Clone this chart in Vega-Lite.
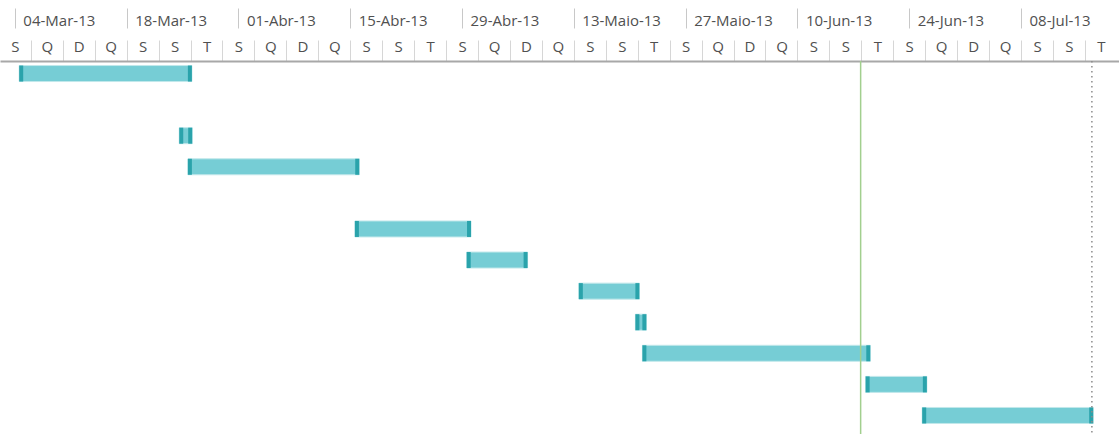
{
  "$schema": "https://vega.github.io/schema/vega-lite/v6.json",
  "width": 1119,
  "height": 373,
  "autosize": {"type": "none"},
  "padding": {"left": 0, "top": 61, "right": 0, "bottom": 0},
  "background": "white",
  "config": {
    "view": {"stroke": null},
    "font": "Open Sans",
    "axis": {"labelFont": "Open Sans", "grid": false, "title": null}
  },
  "datasets": {
    "tarefas": [
      {"tarefa": "Tarefa 1", "inicio": "2013-03-04T13:00", "fim": "2013-03-26T04:00"},
      {"tarefa": "Tarefa 2", "inicio": "2013-03-24T14:00", "fim": "2013-03-26T05:00"},
      {"tarefa": "Tarefa 3", "inicio": "2013-03-25T16:00", "fim": "2013-04-16T03:00"},
      {"tarefa": "Tarefa 4", "inicio": "2013-04-15T14:00", "fim": "2013-04-30T03:00"},
      {"tarefa": "Tarefa 5", "inicio": "2013-04-29T14:00", "fim": "2013-05-07T05:00"},
      {"tarefa": "Tarefa 6", "inicio": "2013-05-13T15:00", "fim": "2013-05-21T05:00"},
      {"tarefa": "Tarefa 7", "inicio": "2013-05-20T17:00", "fim": "2013-05-22T02:00"},
      {"tarefa": "Tarefa 8", "inicio": "2013-05-21T14:00", "fim": "2013-06-19T03:00"},
      {"tarefa": "Tarefa 9", "inicio": "2013-06-18T13:00", "fim": "2013-06-26T05:00"},
      {"tarefa": "Tarefa 10", "inicio": "2013-06-25T15:00", "fim": "2013-07-17T01:00"}
    ],
    "marcos": [
      {"tipo": "Data de status", "data": "2013-06-17T22:00"},
      {"tipo": "Fim do projeto", "data": "2013-07-16T21:00"}
    ]
  },
  "resolve": {"axis": {"x": "independent"}},
  "layer": [
    {
      "data": {"name": "tarefas"},
      "mark": {"type": "bar", "height": 16, "color": "#76cdd5", "stroke": "#c2e8eb", "strokeWidth": 1, "cornerRadius": 0},
      "encoding": {
        "x": {
          "field": "inicio", "type": "temporal",
          "scale": {"domain": [{"year": 2013, "month": 3, "date": 2, "hours": 3, "minutes": 18}, {"year": 2013, "month": 7, "date": 20, "hours": 6, "minutes": 30}]},
          "axis": {
            "orient": "top",
            "values": [
              {"year": 2013, "month": 3, "date": 4}, {"year": 2013, "month": 3, "date": 18},
              {"year": 2013, "month": 4, "date": 1}, {"year": 2013, "month": 4, "date": 15},
              {"year": 2013, "month": 4, "date": 29}, {"year": 2013, "month": 5, "date": 13},
              {"year": 2013, "month": 5, "date": 27}, {"year": 2013, "month": 6, "date": 10},
              {"year": 2013, "month": 6, "date": 24}, {"year": 2013, "month": 7, "date": 8}
            ],
            "offset": 33,
            "tickSize": 20,
            "tickColor": "#c8c8c8",
            "tickWidth": 1,
            "domain": false,
            "labelAlign": "left",
            "labelOffset": 8,
            "labelPadding": -12,
            "labelBaseline": "middle",
            "labelFontSize": 15,
            "labelColor": "#505050",
            "labelFlush": false,
            "labelOverlap": false,
            "labelBound": false,
            "labelExpr": "timeFormat(datum.value, '%d') + '-' + ['Jan','Fev','Mar','Abr','Maio','Jun','Jul','Ago','Set','Out','Nov','Dez'][month(datum.value)] + '-' + timeFormat(datum.value, '%y')"
          }
        },
        "x2": {"field": "fim"},
        "y": {
          "field": "tarefa", "type": "nominal",
          "scale": {
            "domain": ["Tarefa 1", "Tarefa 1 (cont.)", "Tarefa 2", "Tarefa 3", "Tarefa 3 (cont.)", "Tarefa 4", "Tarefa 5", "Tarefa 6", "Tarefa 7", "Tarefa 8", "Tarefa 9", "Tarefa 10"],
            "range": [-3, 370],
            "paddingInner": 0,
            "paddingOuter": 0
          },
          "axis": null
        }
      }
    },
    {
      "data": {"name": "tarefas"},
      "mark": {"type": "tick", "thickness": 4, "size": 16, "color": "#2aa3ab", "opacity": 1, "xOffset": 2},
      "encoding": {
        "x": {
          "field": "inicio", "type": "temporal",
          "axis": {
            "orient": "top",
            "values": [
              {"year": 2013, "month": 3, "date": 4}, {"year": 2013, "month": 3, "date": 8},
              {"year": 2013, "month": 3, "date": 12}, {"year": 2013, "month": 3, "date": 16},
              {"year": 2013, "month": 3, "date": 20}, {"year": 2013, "month": 3, "date": 24},
              {"year": 2013, "month": 3, "date": 28}, {"year": 2013, "month": 4, "date": 1},
              {"year": 2013, "month": 4, "date": 5}, {"year": 2013, "month": 4, "date": 9},
              {"year": 2013, "month": 4, "date": 13}, {"year": 2013, "month": 4, "date": 17},
              {"year": 2013, "month": 4, "date": 21}, {"year": 2013, "month": 4, "date": 25},
              {"year": 2013, "month": 4, "date": 29}, {"year": 2013, "month": 5, "date": 3},
              {"year": 2013, "month": 5, "date": 7}, {"year": 2013, "month": 5, "date": 11},
              {"year": 2013, "month": 5, "date": 15}, {"year": 2013, "month": 5, "date": 19},
              {"year": 2013, "month": 5, "date": 23}, {"year": 2013, "month": 5, "date": 27},
              {"year": 2013, "month": 5, "date": 31}, {"year": 2013, "month": 6, "date": 4},
              {"year": 2013, "month": 6, "date": 8}, {"year": 2013, "month": 6, "date": 12},
              {"year": 2013, "month": 6, "date": 16}, {"year": 2013, "month": 6, "date": 20},
              {"year": 2013, "month": 6, "date": 24}, {"year": 2013, "month": 6, "date": 28},
              {"year": 2013, "month": 7, "date": 2}, {"year": 2013, "month": 7, "date": 6},
              {"year": 2013, "month": 7, "date": 10}, {"year": 2013, "month": 7, "date": 14},
              {"year": 2013, "month": 7, "date": 18}
            ],
            "offset": 0,
            "tickSize": 21,
            "tickOffset": -16,
            "tickColor": "#d6d6d6",
            "tickWidth": 1,
            "domain": true,
            "domainColor": "#a8a8a8",
            "domainWidth": 2,
            "labelAlign": "center",
            "labelOffset": 16,
            "labelPadding": -6,
            "labelBaseline": "middle",
            "labelFontSize": 15,
            "labelColor": "#505050",
            "labelFlush": false,
            "labelOverlap": false,
            "labelBound": false,
            "labelExpr": "['D','S','T','Q','Q','S','S'][day(datum.value - 172800000)]"
          }
        },
        "y": {"field": "tarefa", "type": "nominal"}
      }
    },
    {
      "data": {"name": "tarefas"},
      "mark": {"type": "tick", "thickness": 4, "size": 16, "color": "#2aa3ab", "opacity": 1, "xOffset": -2},
      "encoding": {
        "x": {"field": "fim", "type": "temporal", "axis": null},
        "y": {"field": "tarefa", "type": "nominal"}
      }
    },
    {
      "data": {"name": "marcos"},
      "transform": [{"filter": "datum.tipo == 'Data de status'"}],
      "mark": {"type": "rule", "color": "#a2cf8e", "strokeWidth": 1.5},
      "encoding": {"x": {"field": "data", "type": "temporal", "axis": null}}
    },
    {
      "data": {"name": "marcos"},
      "transform": [{"filter": "datum.tipo == 'Fim do projeto'"}],
      "mark": {"type": "rule", "color": "#8c8c8c", "strokeWidth": 1.5, "strokeDash": [1.5, 3.5]},
      "encoding": {"x": {"field": "data", "type": "temporal", "axis": null}}
    }
  ]
}
